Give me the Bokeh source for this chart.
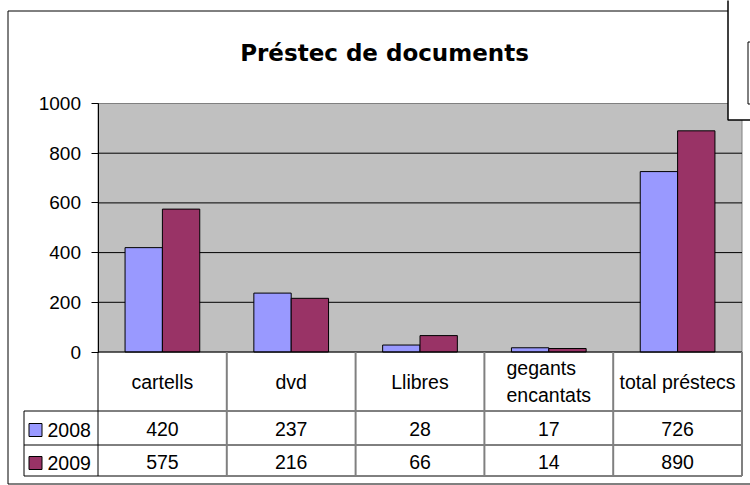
from bokeh.plotting import figure
from bokeh.models import (Range1d, FixedTicker, LinearAxis, ColumnDataSource, LabelSet, Label,
                          BoxAnnotation, PolyAnnotation)
from bokeh.transform import dodge
from bokeh.embed import file_html
from bokeh.resources import INLINE
from bokeh.core.properties import value

# ---- data ----
title = "Préstec de documents"
categories = ["cartells", "dvd", "Llibres", "gegants\nencantats", "total préstecs"]
series = ["2008", "2009"]
values_2008 = [420, 237, 28, 17, 726]
values_2009 = [575, 216, 66, 14, 890]
colors = ["#9999FF", "#993366"]
y_ticks = [0, 200, 400, 600, 800, 1000]

# ---- layout (canvas px) ----
W, H = 750, 485
PL, PR, PT, PB = 97.5, 741.5, 103.0, 351.5      # plot area edges
ROW_HEAD_BOTTOM, ROW1_BOTTOM, ROW2_BOTTOM = 410.5, 444.5, 475.5
LEG_LEFT = 23.5
FONT = "Liberation Sans"
TFS = "19.5px"
n = len(categories)
ymin_v, ymax_v = y_ticks[0], y_ticks[-1]

ux = (PR - PL) / n
uy = (PB - PT) / (ymax_v - ymin_v)
x_range = Range1d(-0.5 - PL / ux, n - 0.5 + (W - PR) / ux)
y_range = Range1d(ymin_v - (H - PB) / uy, ymax_v + PT / uy)

p = figure(width=W, height=H, output_backend="svg", toolbar_location=None, title=None,
           x_range=x_range, y_range=y_range,
           x_axis_location=None, y_axis_location=None,
           min_border=0, min_border_left=0, min_border_right=0,
           min_border_top=0, min_border_bottom=0)
p.background_fill_color = "white"
p.border_fill_color = "white"
p.outline_line_color = None
p.grid.visible = False

idx = list(range(n))
src = ColumnDataSource(dict(x=idx, cat=categories, v2008=values_2008, v2009=values_2009,
                            t2008=[str(v) for v in values_2008],
                            t2009=[str(v) for v in values_2009]))

# plot area (gray) + gridlines
p.quad(left=-0.5, right=n - 0.5, bottom=ymin_v, top=ymax_v,
       fill_color="#C0C0C0", line_color="#808080", line_width=1)
grid_ticks = y_ticks[1:-1]
p.segment(x0=[-0.5] * len(grid_ticks), x1=[n - 0.5] * len(grid_ticks),
          y0=grid_ticks, y1=grid_ticks, line_color="black", line_width=1)

bw = 0.29
p.vbar(x=dodge("x", -bw / 2), top="v2008", width=bw, source=src,
       fill_color=colors[0], line_color="black", line_width=1)
p.vbar(x=dodge("x", bw / 2), top="v2009", width=bw, source=src,
       fill_color=colors[1], line_color="black", line_width=1)
p.segment(x0=[-0.5], x1=[n - 0.5], y0=[0], y1=[0], line_color="black", line_width=1)

# y axis drawn at the plot-area's left edge
ax = LinearAxis(fixed_location=-0.5, bounds=(ymin_v, ymax_v),
                ticker=FixedTicker(ticks=y_ticks))
ax.axis_line_color = "black"
ax.major_tick_line_color = "black"
ax.major_tick_out = 7
ax.major_tick_in = 0
ax.minor_tick_out = 0
ax.minor_tick_in = 0
ax.major_label_standoff = 10
ax.major_label_text_font = FONT
ax.major_label_text_font_size = "19px"
ax.major_label_text_color = "black"
p.add_layout(ax, "left")


def poly(xs, ys, color="black", lw=1, xu="canvas", yu="canvas"):
    p.add_layout(PolyAnnotation(xs=xs, ys=ys, xs_units=xu, ys_units=yu,
                                fill_alpha=0, line_color=color, line_alpha=1,
                                line_width=lw))


def box(l, r, t, b, fill=None, color="black", lw=1):
    p.add_layout(BoxAnnotation(left=l, right=r, top=t, bottom=b,
                               left_units="canvas", right_units="canvas",
                               top_units="canvas", bottom_units="canvas",
                               fill_color=fill if fill else "white",
                               fill_alpha=1 if fill else 0,
                               line_color=color, line_alpha=1, line_width=lw))


# ---- outer chart border ----
poly([W + 30, 7.5, 7.5, W + 30], [10.5, 10.5, 483.5, 483.5])

# ---- title ----
p.add_layout(Label(x=384, y=52, x_units="canvas", y_units="canvas", text=title,
                   text_align="center", text_baseline="alphabetic",
                   text_font="DejaVu Sans", text_font_style="bold",
                   text_font_size="23px", text_color="black"))

# ---- data table lines ----
for y in (ROW_HEAD_BOTTOM, ROW1_BOTTOM, ROW2_BOTTOM):
    poly([LEG_LEFT, PR], [y, y])
poly([LEG_LEFT, LEG_LEFT], [ROW_HEAD_BOTTOM, ROW2_BOTTOM])
poly([-0.5, -0.5], [PB, ROW2_BOTTOM], xu="data")
for i in idx:
    poly([i + 0.5, i + 0.5], [PB, ROW2_BOTTOM], color="#808080", lw=2, xu="data")

# ---- data table text ----
p.add_layout(LabelSet(x="x", y=381, y_units="canvas", text="cat", source=src,
                      text_align="center", text_baseline="middle",
                      text_font=value(FONT), text_font_size=TFS,
                      text_line_height=1.2, text_color="black"))
for col, yy in (("t2008", 428), ("t2009", 461)):
    p.add_layout(LabelSet(x="x", y=yy, y_units="canvas", text=col, source=src,
                          text_align="center", text_baseline="middle",
                          text_font=value(FONT), text_font_size=TFS,
                          text_color="black"))

for name, col, yy in zip(series, colors, (429.5, 462.5)):
    box(28.5, 41.5, yy - 6.5, yy + 6.5, fill=col)
    p.add_layout(Label(x=47, y=yy - 0.5, x_units="canvas", y_units="canvas", text=name,
                       text_align="left", text_baseline="middle",
                       text_font=FONT, text_font_size=TFS, text_color="black"))

# ---- overlapping object at top right ----
box(727.5, W + 40, -10, 119.5, fill="white", lw=1.5)
box(747.5, W + 40, 41.5, 103.5)

open("out.html", "w").write(file_html(p, INLINE))
